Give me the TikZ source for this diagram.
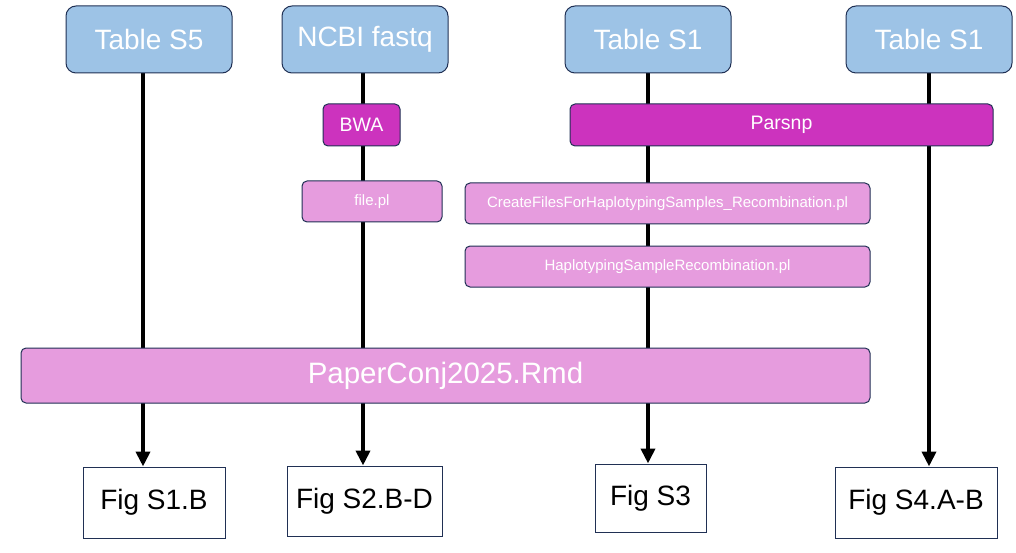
\documentclass[tikz,border=0pt]{standalone}
\usepackage{fontspec}
\setmainfont{Liberation Sans}
\usetikzlibrary{arrows.meta,backgrounds}
\definecolor{navy}{RGB}{32,48,84}
\definecolor{skyb}{RGB}{157,195,230}
\definecolor{magen}{RGB}{204,51,190}
\definecolor{pinky}{RGB}{230,156,222}
\begin{document}
\begin{tikzpicture}[x=1pt,y=-1pt,
    src/.style={draw=navy,line width=1pt,fill=skyb,rounded corners=10pt,text=white,
      minimum width=166pt,minimum height=67pt,font=\fontsize{28}{30}\selectfont},
    tool/.style={draw=navy,line width=1pt,fill=magen,rounded corners=5pt,text=white,
      minimum height=42pt,font=\fontsize{19.5}{22}\selectfont},
    script/.style={draw=navy,line width=1pt,fill=pinky,rounded corners=5pt,text=white,
      minimum height=41pt,font=\fontsize{15}{17}\selectfont},
    fig/.style={draw=navy,line width=1pt,fill=white,text=black,
      font=\fontsize{28}{30}\selectfont},
    flow/.style={line width=4pt,-{Triangle[width=14pt,length=15pt]}}]
  \useasboundingbox (0,0) rectangle (1016,553);
  % inputs
  \node[src] (tabS5) at (149,39.5) {Table S5};
  \node[src] (ncbi) at (365,39.5) {NCBI fastq};
  \node[src] (tabS1a) at (648,39.5) {Table S1};
  \node[src] (tabS1b) at (929,39.5) {Table S1};
  % tools and scripts
  \node[tool,minimum width=77pt] (bwa) at (361.5,125) {BWA};
  \node[tool,minimum width=423pt] (parsnp) at (781.5,125) {Parsnp};
  \node[script,minimum width=140pt] (filepl) at (372,201.5) {file.pl};
  \node[script,minimum width=405pt] (create) at (667.5,203.5) {CreateFilesForHaplotypingSamples\_Recombination.pl};
  \node[script,minimum width=405pt] (haplo) at (667.5,266.5) {HaplotypingSampleRecombination.pl};
  \node[script,minimum width=849pt,minimum height=55pt,font=\fontsize{29.5}{31}\selectfont] (paper) at (445.5,375.5) {PaperConj2025.Rmd};
  % outputs
  \node[fig,minimum width=142pt,minimum height=71pt] (figS1) at (154,502.5) {Fig S1.B};
  \node[fig,minimum width=155pt,minimum height=70pt] (figS2) at (364.5,501) {Fig S2.B-D};
  \node[fig,minimum width=111pt,minimum height=68pt] (figS3) at (650.5,498) {Fig S3};
  \node[fig,minimum width=162pt,minimum height=71pt] (figS4) at (916,502.5) {Fig S4.A-B};
  \begin{scope}[on background layer]
    \draw[flow] ([xshift=-6pt]tabS5.south) -- ([xshift=-6pt]tabS5.south |- figS1.north);
    \draw[flow] ([xshift=-2pt]ncbi.south) -- ([xshift=-2pt]ncbi.south |- figS2.north);
    \draw[flow] (tabS1a.south) -- (tabS1a.south |- figS3.north);
    \draw[flow] (tabS1b.south) -- (tabS1b.south |- figS4.north);
  \end{scope}
\end{tikzpicture}
\end{document}
